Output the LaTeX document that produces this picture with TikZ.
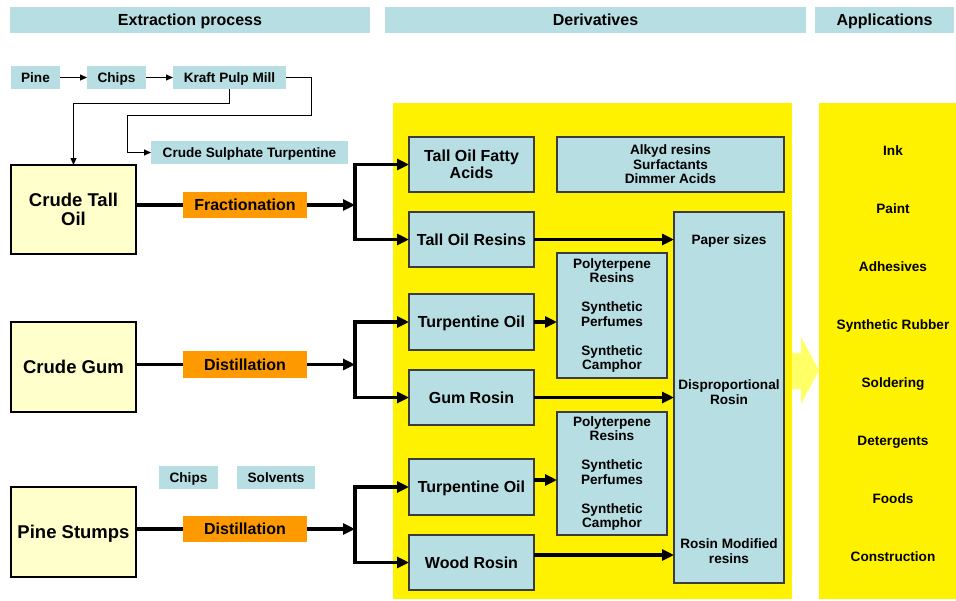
\documentclass[tikz,border=0pt]{standalone}
\usepackage{fontspec}
\setmainfont{Liberation Sans}
\usetikzlibrary{arrows.meta,calc}
\definecolor{lb}{RGB}{183,222,226}
\definecolor{ly}{RGB}{255,255,204}
\definecolor{org}{RGB}{255,153,0}
\definecolor{ay}{RGB}{255,255,102}
\definecolor{bd}{RGB}{60,60,60}
\tikzset{
  sxvi/.style={text height=14.9pt, text depth=3.4pt},
  sxiii/.style={text height=12.6pt, text depth=2.9pt},
  sxviii/.style={text height=17.1pt, text depth=3.9pt},
  hdr/.style={fill=lb, inner sep=0pt, outer sep=0pt, minimum height=26pt, sxvi, font=\fontsize{16}{18}\selectfont\bfseries},
  sbox/.style={fill=lb, inner sep=0pt, outer sep=0pt, minimum height=23pt, sxiii, font=\fontsize{13.6}{14.5}\selectfont\bfseries},
  dbox/.style={fill=lb, draw=bd, line width=1.2pt, inner sep=0pt, outer sep=0pt, align=center, font=\fontsize{16}{17}\selectfont\bfseries},
  sdbox/.style={dbox, font=\fontsize{13.6}{14.5}\selectfont\bfseries},
  cbox/.style={fill=ly, draw=black, line width=1.8pt, inner sep=0pt, outer sep=0pt, align=center, minimum width=125pt, minimum height=90pt, font=\fontsize{18.5}{19}\selectfont\bfseries},
  pbox/.style={fill=org, inner sep=0pt, outer sep=0pt, minimum width=124pt, minimum height=26pt, sxvi, font=\fontsize{16}{18}\selectfont\bfseries},
  lbl/.style={inner sep=0pt, align=center, font=\fontsize{13.6}{14.5}\selectfont\bfseries},
  flow/.style={line width=3.3pt},
  flowarr/.style={flow, -{Triangle[length=12pt,width=11pt]}},
  thinline/.style={line width=1pt},
  thinarr/.style={thinline, -{Triangle[length=7pt,width=6pt]}}
}
\begin{document}
\begin{tikzpicture}[x=1pt,y=-1pt]
\useasboundingbox (0,0) rectangle (956,600);
% headers
\node[hdr, minimum width=360pt] (hext) at (190,20) {Extraction process};
\node[hdr, minimum width=421pt] (hder) at (595.5,20) {Derivatives};
\node[hdr, minimum width=139pt] (happ) at (884.5,20) {Applications};
% yellow panels and big arrow
\fill[yellow] (393,103) rectangle (792,599);
\fill[yellow] (819,103) rectangle (956,599);
\fill[ay] (792,353) -- (801,353) -- (801,337) -- (819,370.5) -- (801,404) -- (801,389) -- (792,389) -- cycle;
% top chain
\node[sbox, minimum width=49pt] (pine) at (35.5,77.5) {Pine};
\node[sbox, minimum width=59pt] (chipsA) at (116.5,77.5) {Chips};
\node[sbox, minimum width=113pt] (kraft) at (229.5,77.5) {Kraft Pulp Mill};
\node[sbox, minimum width=197pt] (cst) at (249.5,152.5) {Crude Sulphate Turpentine};
\draw[thinarr] (pine) -- (chipsA);
\draw[thinarr] (chipsA) -- (kraft);
\draw[thinarr] (kraft.east) -| (311,115) -| (127,152.5) -- (cst.west);
% crude boxes
\node[cbox, minimum height=89pt] (cto) at (73.5,209.5) {Crude Tall\\[-0.5pt]Oil};
\node[cbox, sxviii] (cg) at (73.5,367) {Crude Gum};
\node[cbox, sxviii] (ps) at (73.5,532) {Pine Stumps};
\draw[thinarr] (kraft.south) -- ++(0,14) -| (cto.north);
% processes
\node[pbox] (frac) at (245,205) {Fractionation};
\node[pbox, minimum height=27pt] (distA) at (245,364.5) {Distillation};
\node[pbox] (distB) at (245,529) {Distillation};
\node[sbox, minimum width=59pt] (chipsB) at (188.5,477.5) {Chips};
\node[sbox, minimum width=78pt] (solv) at (276,477.5) {Solvents};
% derivatives boxes
\node[dbox, minimum width=125pt, minimum height=55pt] (tofa) at (471.5,164.5) {Tall Oil Fatty\\Acids};
\node[sdbox, minimum width=227pt, minimum height=55pt] (alkyd) at (670.5,164.5) {Alkyd resins\\Surfactants\\Dimmer Acids};
\node[dbox, sxvi, minimum width=125pt, minimum height=55pt] (tor) at (471.5,239.5) {Tall Oil Resins};
\node[dbox, sxvi, minimum width=125pt, minimum height=56pt] (turpA) at (471.5,322) {Turpentine Oil};
\node[dbox, sxvi, minimum width=125pt, minimum height=55pt] (gum) at (471.5,397.5) {Gum Rosin};
\node[dbox, sxvi, minimum width=125pt, minimum height=56pt] (turpB) at (471.5,487) {Turpentine Oil};
\node[dbox, sxvi, minimum width=125pt, minimum height=55pt] (wood) at (471.5,562.5) {Wood Rosin};
\node[sdbox, minimum width=110pt, minimum height=125pt] (polyA) at (612,315.5) {Polyterpene\\Resins\\[14.5pt]Synthetic\\Perfumes\\[14.5pt]Synthetic\\Camphor};
\node[sdbox, minimum width=110pt, minimum height=123pt] (polyB) at (612,473.5) {Polyterpene\\Resins\\[14.5pt]Synthetic\\Perfumes\\[14.5pt]Synthetic\\Camphor};
\node[sdbox, minimum width=110pt, minimum height=371pt] (tall) at (729,397.5) {};
\node[lbl, sxiii] (paper) at (729,239.5) {Paper sizes};
\node[lbl] (disp) at (729,392) {Disproportional\\Rosin};
\node[lbl] (rmod) at (729,551) {Rosin Modified\\resins};
% main flows
\coordinate (bA) at (355,205);
\coordinate (bB) at (355,364.5);
\coordinate (bC) at (355,529);
\draw[flow] (frac.west -| cto.east) -- (frac.west);
\draw[flowarr] (frac.east) -- (bA);
\draw[flowarr] (bA) |- (tofa.west);
\draw[flowarr] (bA) |- (tor.west);
\draw[flow] (distA.west -| cg.east) -- (distA.west);
\draw[flowarr] (distA.east) -- (bB);
\draw[flowarr] (bB) |- (turpA.west);
\draw[flowarr] (bB) |- (gum.west);
\draw[flow] (distB.west -| ps.east) -- (distB.west);
\draw[flowarr] (distB.east) -- (bC);
\draw[flowarr] (bC) |- (turpB.west);
\draw[flowarr] (bC) |- (wood.west);
% derivative arrows
\draw[flowarr] (tor.east) -- (tor.east -| tall.west);
\draw[flowarr] (gum.east) -- (gum.east -| tall.west);
\coordinate (wA) at ($(wood.east)+(0,-7.5)$);
\draw[flowarr] (wA) -- (wA -| tall.west);
\draw[flowarr] (turpA.east) -- (turpA.east -| polyA.west);
\coordinate (tB) at ($(turpB.east)+(0,-7)$);
\draw[flowarr] (tB) -- (tB -| polyB.west);
% applications
\node[lbl, sxiii] (app1) at (893,151) {Ink};
\node[lbl, sxiii] (app2) at (893,209) {Paint};
\node[lbl, sxiii] (app3) at (893,267) {Adhesives};
\node[lbl, sxiii] (app4) at (893,325) {Synthetic Rubber};
\node[lbl, sxiii] (app5) at (893,383) {Soldering};
\node[lbl, sxiii] (app6) at (893,441) {Detergents};
\node[lbl, sxiii] (app7) at (893,499) {Foods};
\node[lbl, sxiii] (app8) at (893,557) {Construction};
\end{tikzpicture}
\end{document}
